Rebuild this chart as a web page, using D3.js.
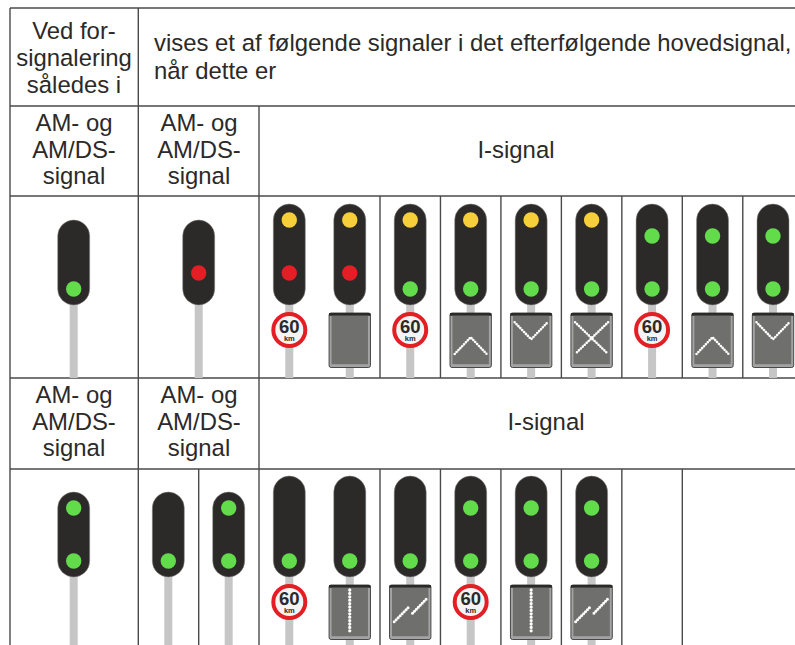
<!DOCTYPE html>
<html>
<head>
<meta charset="utf-8">
<script src="https://cdn.jsdelivr.net/npm/d3@7"></script>
<style>
  html, body { margin: 0; padding: 0; background: #fff; overflow: hidden; }
  text { font-family: "Liberation Sans", Arial, sans-serif; fill: #2b2a29; }
</style>
</head>
<body>
<svg id="chart" width="795" height="645"></svg>
<script>
// header texts
const headFirst = ['Ved for-', 'signalering', 'således i']
const headSecond = ['vises et af følgende signaler i det efterfølgende hovedsignal,', 'når dette er']
const headAm = ['AM- og', 'AM/DS-', 'signal']
const headI = ['I-signal']

// upper row: I-signal columns
const upperLamps = ['yellow', 'yellow', 'yellow', 'yellow', 'yellow', 'yellow', 'green', 'green', 'green']
const upperLower = ['red', 'red', 'green', 'green', 'green', 'green', 'green', 'green', 'green']
const upperSigns = ['60', 'blank', '60', 'up', 'down', 'cross', '60', 'up', 'down']

// lower row: I-signal columns, null = dark lamp
const lowerLamps = [null, null, null, 'green', 'green', 'green']
const lowerLower = ['green', 'green', 'green', 'green', 'green', 'green']
const lowerSigns = ['60', 'dots', 'slash', '60', 'dots', 'slash']

// lower row, second AM column holds two signals
const lowerAmUpper = [null, 'green']

const colours = { yellow: '#f6cf3b', red: '#e31e24', green: '#62dc4a' }
// lamp height above the housing bottom, for each colour
const lampUpper = { yellow: 85, green: 69 }
const lampLower = { red: 32, green: 16 }

const svg = d3.select('#chart')
const lineCol = '#4a4a4a'
const fontSize = 23.9

// I-signal columns, index -> centre of the signal
const x = d3.scaleLinear().domain([0, 8]).range([289.3, 773])

const g = svg.append('g')

function hLine(x1, x2, y) {
  g.append('line').attr('x1', x1).attr('x2', x2).attr('y1', y).attr('y2', y)
    .attr('stroke', lineCol).attr('stroke-width', 1.4)
}
function vLine(xx, y1, y2) {
  g.append('line').attr('x1', xx).attr('x2', xx).attr('y1', y1).attr('y2', y2)
    .attr('stroke', lineCol).attr('stroke-width', 1.4)
}

function block(lines, cx, firstY, step) {
  lines.forEach((l, i) => {
    g.append('text').text(l).attr('x', cx).attr('y', firstY + i * step)
      .attr('text-anchor', 'middle').attr('font-size', fontSize)
  })
}

// grid
;[8, 106, 196, 378, 469].forEach(y => hLine(10, 795, y))
vLine(10, 8, 645); vLine(138.3, 8, 645); vLine(259, 106, 645)
d3.range(2, 9).forEach(i => vLine((x(i - 1) + x(i)) / 2, 196, 378))
d3.range(2, 8).forEach(i => vLine((x(i - 1) + x(i)) / 2, 469, 645))
vLine(198.7, 469, 645)

// text
block(headFirst, 74, 39, 26.8)
headSecond.forEach((l, i) => {
  g.append('text').text(l).attr('x', 154).attr('y', 51 + i * 28).attr('font-size', fontSize)
})
block(headAm, 74, 131, 26.7)
block(headAm, 199, 131, 26.7)
block(headI, 516, 158, 0)
block(headAm, 74, 403, 26.7)
block(headAm, 199, 403, 26.7)
block(headI, 546, 430, 0)

// bottom = lower edge of the housing, end = where the pole stops
function signal(cx, bottom, height, end, upper, lower, sign) {
  const s = svg.append('g')
  s.append('rect').attr('x', cx - 4).attr('width', 8).attr('y', bottom - 5).attr('height', end - bottom + 5)
    .attr('fill', '#c6c6c6')
  s.append('rect').attr('x', cx - 16).attr('width', 32).attr('y', bottom - height).attr('height', height)
    .attr('rx', 16).attr('fill', '#2b2a29').attr('stroke', '#8a8a8a').attr('stroke-width', 0.5)
  if (upper) lamp(s, cx, bottom - lampUpper[upper], upper)
  if (lower) lamp(s, cx, bottom - lampLower[lower], lower)
  if (sign === '60') speed(s, cx, bottom + 25)
  else if (sign) plate(s, cx, bottom + 8, sign)
}

function lamp(s, cx, cy, col) {
  s.append('circle').attr('cx', cx).attr('cy', cy).attr('r', 7.7).attr('fill', colours[col])
}

function speed(s, cx, cy) {
  s.append('circle').attr('cx', cx).attr('cy', cy).attr('r', 16).attr('fill', '#f4f4f4')
    .attr('stroke', '#e31e24').attr('stroke-width', 4)
  // one label, two lines
  const t = s.append('text').attr('text-anchor', 'middle').attr('font-weight', 'bold')
  t.append('tspan').text('60').attr('x', cx).attr('y', cy + 3.3).attr('font-size', 18.5)
  t.append('tspan').text('km').attr('x', cx).attr('y', cy + 10.8).attr('font-size', 7.5)
}

function plate(s, cx, top, kind) {
  s.append('rect').attr('x', cx - 20.7).attr('y', top).attr('width', 41.4).attr('height', 54.5)
    .attr('rx', 2).attr('fill', '#a3a3a3').attr('stroke', '#3a3a3a').attr('stroke-width', 0.9)
  s.append('rect').attr('x', cx - 20.7).attr('y', top).attr('width', 41.4).attr('height', 2.8).attr('fill', '#2b2a29')
  s.append('rect').attr('x', cx - 18.2).attr('y', top + 2.8).attr('width', 36.4).attr('height', 48.4).attr('fill', '#6f6f6e')
  const stroke = (d, w, dash) => s.append('path').attr('d', d).attr('fill', 'none').attr('stroke', '#fff')
    .attr('stroke-width', w).attr('stroke-linecap', 'round').attr('stroke-dasharray', dash)
  if (kind === 'up') stroke(`M${cx - 16},${top + 41} L${cx},${top + 24.3} L${cx + 16},${top + 41}`, 2.6, '0 2.7')
  if (kind === 'down') stroke(`M${cx - 16.5},${top + 9.3} L${cx},${top + 26.3} L${cx + 16.5},${top + 9.3}`, 2.6, '0 2.7')
  if (kind === 'cross') {
    stroke(`M${cx - 16.5},${top + 9.3} L${cx + 16.5},${top + 41}`, 2.6, '0 2.7')
    stroke(`M${cx + 16.5},${top + 9.3} L${cx - 16.5},${top + 41}`, 2.6, '0 2.7')
  }
  if (kind === 'dots') stroke(`M${cx},${top + 5} L${cx},${top + 49}`, 3.3, '0 3.4')
  if (kind === 'slash') {
    stroke(`M${cx - 16},${top + 36.7} L${cx - 1.7},${top + 22.3}`, 3, '0 2.8')
    stroke(`M${cx + 2.3},${top + 28.3} L${cx + 16},${top + 14}`, 3, '0 2.8')
  }
}

// upper row
signal(73.7, 305, 85, 378, null, 'green', null)
signal(198.7, 305, 85, 378, null, 'red', null)
upperLamps.forEach((l, i) => signal(x(i), 305, 101, 378, l, upperLower[i], upperSigns[i]))

// lower row
signal(73.7, 577, 85, 645, 'green', 'green', null)
lowerAmUpper.forEach((u, i) => signal(i === 0 ? 168.3 : 228.7, 577, 85, 645, u, 'green', null))
lowerLamps.forEach((l, i) => signal(x(i), 577, 101, 645, l, lowerLower[i], lowerSigns[i]))
</script>
</body>
</html>
